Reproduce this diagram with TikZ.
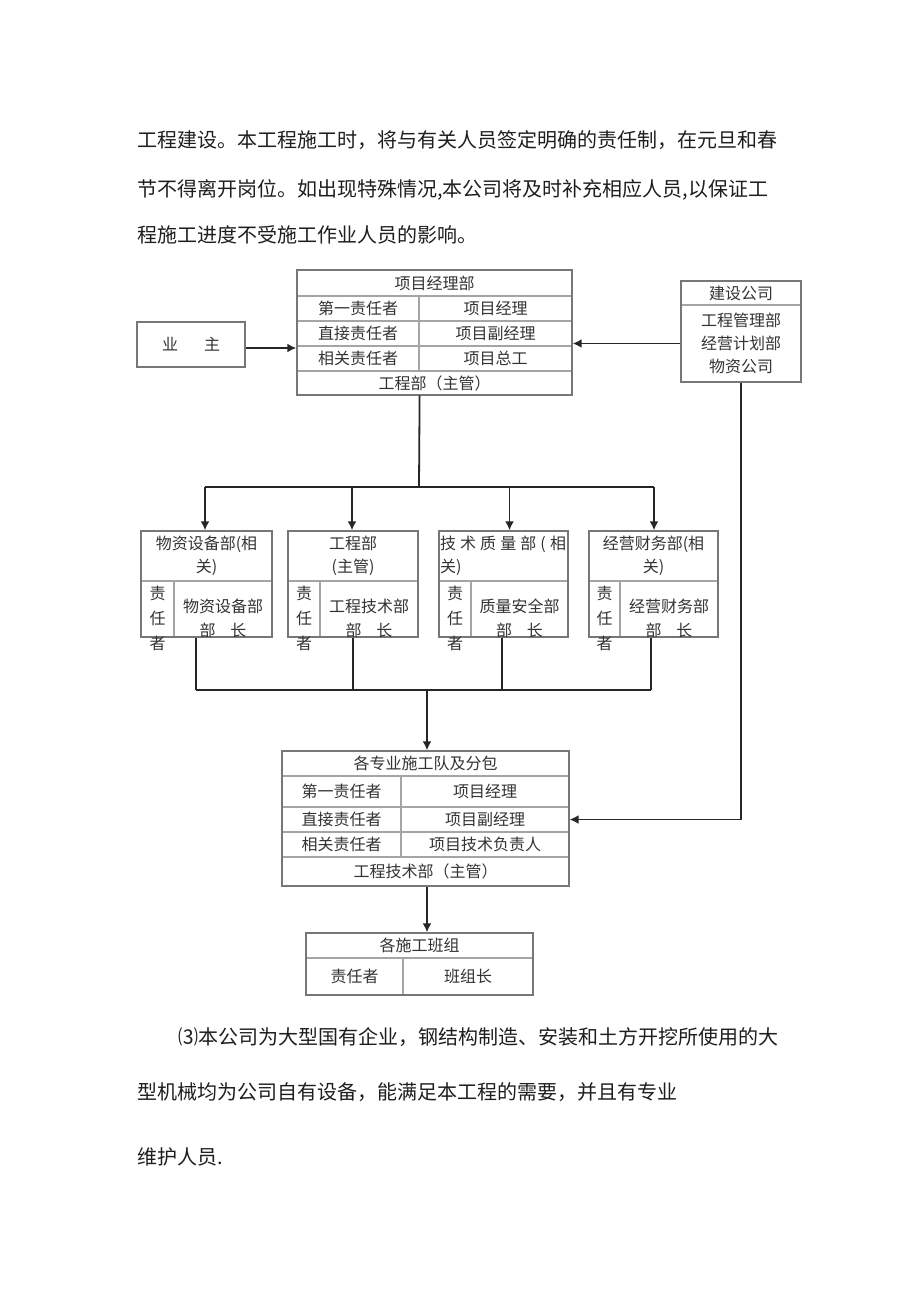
\documentclass[tikz,border=0pt]{standalone}
\usepackage{fontspec}
\newfontfamily\cjk{Noto Sans CJK SC}
\usetikzlibrary{arrows.meta}
\definecolor{boxline}{HTML}{777777}
\definecolor{inline}{HTML}{A5A5A5}
\definecolor{boxtxt}{HTML}{333333}
\definecolor{paratxt}{HTML}{1E1E1E}
\definecolor{wire}{HTML}{262626}
\begin{document}
\begin{tikzpicture}[x=1pt,y=-1pt,
  cell/.style={draw=inline, line width=1.2pt, inner sep=0pt, align=center,
    font=\cjk\fontsize{16}{23}\selectfont, text=boxtxt},
  frame/.style={draw=boxline, line width=1.4pt, inner sep=0pt},
  btxt/.style={inner sep=0pt, align=center, font=\cjk\fontsize{16}{24}\selectfont, text=boxtxt},
  vtxt/.style={inner sep=0pt, align=center, font=\cjk\fontsize{16}{25}\selectfont, text=boxtxt},
  para/.style={anchor=west, inner sep=0pt, font=\cjk\fontsize{20}{20}\selectfont, text=paratxt},
  wirel/.style={draw=wire, line width=1.8pt},
  arr/.style={wirel, -{Latex[length=9pt,width=9pt]}}
]
\fill[white] (0,0) rectangle (920,1302);
\useasboundingbox (0,0) rectangle (920,1302);

% paragraph text
\node[para] (p1) at (137,140) {工程建设。本工程施工时，将与有关人员签定明确的责任制，在元旦和春};
\node[para] (p2) at (137,190) {节不得离开岗位。如出现特殊情况,本公司将及时补充相应人员,以保证工};
\node[para] (p3) at (137,235) {程施工进度不受施工作业人员的影响。};
\node[para] (p4) at (178,1037) {⑶本公司为大型国有企业，钢结构制造、安装和土方开挖所使用的大};
\node[para] (p5) at (137,1092) {型机械均为公司自有设备，能满足本工程的需要，并且有专业};
\node[para] (p6) at (137,1157) {维护人员.};

% owner
\node[cell, minimum width=108pt, minimum height=45pt] (yzc) at (191,344.5) {业\hspace{26pt}主};
\node[frame, minimum width=108pt, minimum height=45pt] (yz) at (191,344.5) {};

% main project box
\node[cell, minimum width=275pt, minimum height=26pt] (mt) at (434.5,283) {项目经理部};
\node[cell, minimum width=122pt, minimum height=25pt] (m1l) at (358,308.5) {第一责任者};
\node[cell, minimum width=153pt, minimum height=25pt] (m1r) at (495.5,308.5) {项目经理};
\node[cell, minimum width=122pt, minimum height=25pt] (m2l) at (358,333.5) {直接责任者};
\node[cell, minimum width=153pt, minimum height=25pt] (m2r) at (495.5,333.5) {项目副经理};
\node[cell, minimum width=122pt, minimum height=25pt] (m3l) at (358,358.5) {相关责任者};
\node[cell, minimum width=153pt, minimum height=25pt] (m3r) at (495.5,358.5) {项目总工};
\node[cell, minimum width=275pt, minimum height=24pt] (mb) at (434.5,383) {工程部（主管）};
\node[frame, minimum width=275pt, minimum height=125pt] (main) at (434.5,332.5) {};

% construction company
\node[cell, minimum width=120pt, minimum height=24pt] (jst) at (741,293) {建设公司};
\node[cell, minimum width=120pt, minimum height=77pt, font=\cjk\fontsize{16}{23.3}\selectfont] (jsb) at (741,343.5) {工程管理部\\经营计划部\\物资公司};
\node[frame, minimum width=120pt, minimum height=101pt] (js) at (741,331.5) {};

% department boxes
% box 1
\node[cell, minimum width=131pt, minimum height=50pt] (d1t) at (206.5,556) {物资设备部(相\\关)};
\node[cell, minimum width=33pt, minimum height=56pt] (d1l) at (157.5,609) {};
\node[cell, minimum width=98pt, minimum height=56pt] (d1r) at (223,609) {};
\node[frame, minimum width=131pt, minimum height=106pt] (d1) at (206.5,584) {};
\node[vtxt] (d1lt) at (157.5,618) {责\\任\\者};
\node[btxt] (d1rt) at (223,618) {物资设备部\\部\hspace{15pt}长};
% box 2
\node[cell, minimum width=130pt, minimum height=50pt] (d2t) at (353,556) {工程部\\(主管)};
\node[cell, minimum width=32pt, minimum height=56pt] (d2l) at (304,609) {};
\node[cell, minimum width=98pt, minimum height=56pt] (d2r) at (369,609) {};
\node[frame, minimum width=130pt, minimum height=106pt] (d2) at (353,584) {};
\node[vtxt] (d2lt) at (304,618) {责\\任\\者};
\node[btxt] (d2rt) at (369,618) {工程技术部\\部\hspace{15pt}长};
% box 3
\node[cell, minimum width=129pt, minimum height=50pt, text width=127pt, align=left] (d3t) at (503.5,556) {\makebox[126pt]{技\hfill 术\hfill 质\hfill 量\hfill 部\hfill (\hfill 相}\\关)};
\node[cell, minimum width=32pt, minimum height=56pt] (d3l) at (455,609) {};
\node[cell, minimum width=97pt, minimum height=56pt] (d3r) at (519.5,609) {};
\node[frame, minimum width=129pt, minimum height=106pt] (d3) at (503.5,584) {};
\node[vtxt] (d3lt) at (455,618) {责\\任\\者};
\node[btxt] (d3rt) at (519.5,618) {质量安全部\\部\hspace{15pt}长};
% box 4
\node[cell, minimum width=129pt, minimum height=50pt] (d4t) at (653.5,556) {经营财务部(相\\关)};
\node[cell, minimum width=31pt, minimum height=56pt] (d4l) at (604.5,609) {};
\node[cell, minimum width=98pt, minimum height=56pt] (d4r) at (669,609) {};
\node[frame, minimum width=129pt, minimum height=106pt] (d4) at (653.5,584) {};
\node[vtxt] (d4lt) at (604.5,618) {责\\任\\者};
\node[btxt] (d4rt) at (669,618) {经营财务部\\部\hspace{15pt}长};

% subcontractor box
\node[cell, minimum width=287pt, minimum height=25pt] (st) at (425.5,763.5) {各专业施工队及分包};
\node[cell, minimum width=119pt, minimum height=31pt] (s1l) at (341.5,791.5) {第一责任者};
\node[cell, minimum width=168pt, minimum height=31pt] (s1r) at (485,791.5) {项目经理};
\node[cell, minimum width=119pt, minimum height=25pt] (s2l) at (341.5,819.5) {直接责任者};
\node[cell, minimum width=168pt, minimum height=25pt] (s2r) at (485,819.5) {项目副经理};
\node[cell, minimum width=119pt, minimum height=25pt] (s3l) at (341.5,844.5) {相关责任者};
\node[cell, minimum width=168pt, minimum height=25pt] (s3r) at (485,844.5) {项目技术负责人};
\node[cell, minimum width=287pt, minimum height=29pt] (sb) at (425.5,871.5) {工程技术部（主管）};
\node[frame, minimum width=287pt, minimum height=135pt] (sub) at (425.5,818.5) {};

% team box
\node[cell, minimum width=227pt, minimum height=25pt] (tt) at (419.5,945.5) {各施工班组};
\node[cell, minimum width=97pt, minimum height=37pt] (tl) at (354.5,976.5) {责任者};
\node[cell, minimum width=130pt, minimum height=37pt] (tr) at (468,976.5) {班组长};
\node[frame, minimum width=227pt, minimum height=62pt] (team) at (419.5,964) {};

% connectors
\draw[arr] ([yshift=-3.5pt]yz.east) -- ([yshift=-3.5pt]yz.east -| main.west);
\draw[arr] (jsb.west) -- (jsb.west -| main.east);

\coordinate (tb) at (419,487);
\coordinate (t1) at (205,487);
\coordinate (t2) at (352,487);
\coordinate (t3) at (509.5,487);
\coordinate (t4) at (654,487);
\draw[wirel] (main.south -| m1l.east) -- (tb);
\draw[wirel] (t1) -- (t4);
\draw[arr] (t1) -- (t1 |- d1.north);
\draw[arr] (t2) -- (t2 |- d2.north);
\draw[arr] (t3) -- (t3 |- d3.north);
\draw[arr] (t4) -- (t4 |- d4.north);

\coordinate (b1) at (196,690);
\coordinate (b2) at (353,690);
\coordinate (b3) at (502,690);
\coordinate (b4) at (651,690);
\coordinate (bm) at (427,690);
\draw[wirel] (d1.south -| b1) -- (b1);
\draw[wirel] (d2.south -| b2) -- (b2);
\draw[wirel] (d3.south -| b3) -- (b3);
\draw[wirel] (d4.south -| b4) -- (b4);
\draw[wirel] (b1) -- (b4);
\draw[arr] (bm) -- (bm |- sub.north);

\draw[arr] (js.south) |- (s2r.east);
\draw[arr] (sub.south -| bm) -- (team.north -| bm);
\end{tikzpicture}
\end{document}
